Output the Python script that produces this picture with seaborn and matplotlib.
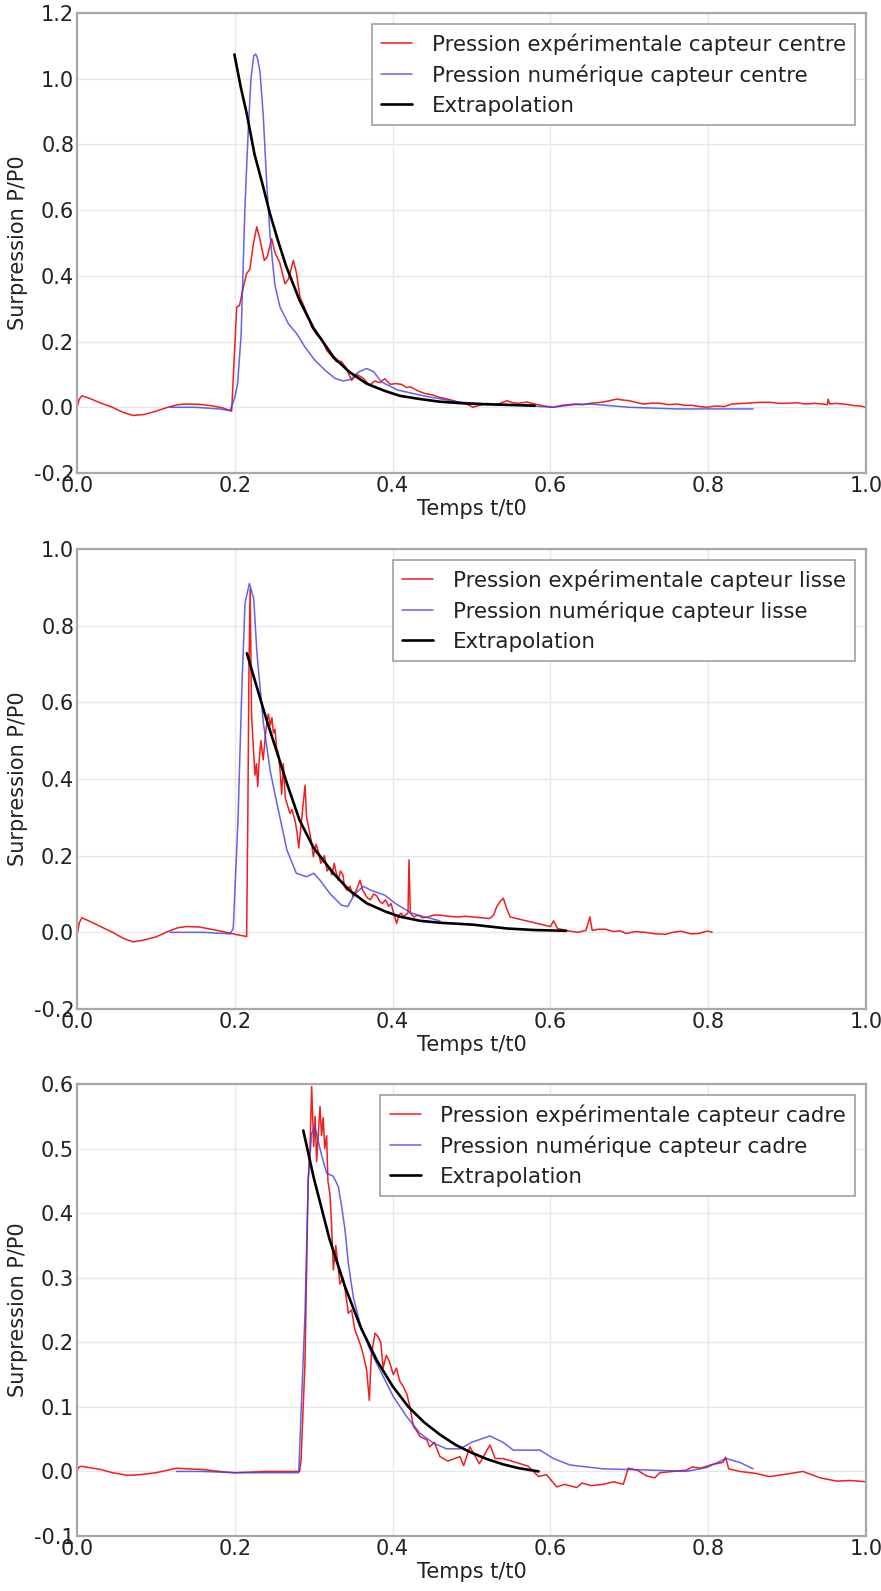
import matplotlib
matplotlib.use("Agg")
import matplotlib.pyplot as plt
import seaborn as sns

# ---------------- data ----------------
xlabel = "Temps t/t0"
ylabel = "Surpression P/P0"

# Panel 1 : capteur centre
t_exp_centre = [0.000, 0.003, 0.006, 0.015, 0.030, 0.045, 0.058, 0.071, 0.085, 0.100, 0.115, 0.128,
                0.139, 0.155, 0.170, 0.185, 0.196, 0.2024, 0.206, 0.2108,
                0.215, 0.219, 0.2236, 0.2278, 0.232, 0.2374, 0.241, 0.2467, 0.251, 0.257, 0.2636, 0.268,
                0.2742, 0.278, 0.2826, 0.289, 0.2975, 0.304, 0.310, 0.3165, 0.323, 0.329, 0.335, 0.341,
                0.3481, 0.3545, 0.362, 0.371, 0.377, 0.384, 0.390, 0.397, 0.404, 0.411, 0.418, 0.423,
                0.432, 0.441, 0.450, 0.460, 0.470, 0.483, 0.492, 0.502, 0.510, 0.520, 0.532, 0.545,
                0.552, 0.560, 0.570, 0.580, 0.592, 0.603, 0.615, 0.631, 0.642, 0.650, 0.664, 0.675,
                0.684, 0.692, 0.700, 0.710, 0.718, 0.730, 0.740, 0.750, 0.760, 0.770, 0.780, 0.790,
                0.798, 0.810, 0.820, 0.830, 0.845, 0.866, 0.880, 0.890, 0.900, 0.912, 0.923, 0.935,
                0.945, 0.951, 0.952, 0.954, 0.962, 0.970, 0.978, 0.985, 0.993, 1.000]
p_exp_centre = [0.000, 0.025, 0.035, 0.028, 0.013, 0.000, -0.015, -0.025, -0.022, -0.012, 0.000, 0.008,
                0.010, 0.009, 0.005, -0.002, -0.012, 0.305, 0.310, 0.366,
                0.407, 0.420, 0.498, 0.549, 0.510, 0.447, 0.457, 0.513, 0.470, 0.440, 0.376, 0.390,
                0.447, 0.410, 0.336, 0.300, 0.244, 0.220, 0.210, 0.173, 0.155, 0.138, 0.140, 0.120,
                0.082, 0.100, 0.090, 0.067, 0.080, 0.075, 0.087, 0.070, 0.072, 0.070, 0.060, 0.062,
                0.050, 0.042, 0.038, 0.030, 0.025, 0.016, 0.012, 0.000, 0.006, 0.012, 0.008, 0.020,
                0.014, 0.012, 0.016, 0.010, 0.004, 0.000, 0.006, 0.010, 0.008, 0.012, 0.015, 0.020,
                0.025, 0.022, 0.020, 0.014, 0.010, 0.013, 0.012, 0.008, 0.010, 0.006, 0.006, 0.002,
                0.000, 0.004, 0.002, 0.010, 0.012, 0.015, 0.015, 0.012, 0.012, 0.014, 0.010, 0.012,
                0.010, 0.008, 0.025, 0.010, 0.012, 0.010, 0.008, 0.005, 0.004, 0.000]
t_num_centre = [0.118, 0.150, 0.180, 0.194, 0.200, 0.2035, 0.208, 0.213, 0.217, 0.2205, 0.224, 0.2265,
                0.229, 0.232, 0.236, 0.2405, 0.2445, 0.2475, 0.251, 0.2573, 0.2678, 0.2784, 0.289,
                0.3016, 0.3143, 0.327, 0.3375, 0.347, 0.3565, 0.3671, 0.376, 0.386, 0.407, 0.441,
                0.483, 0.520, 0.550, 0.603, 0.630, 0.650, 0.700, 0.760, 0.800, 0.857]
p_num_centre = [0.000, 0.000, -0.005, -0.010, 0.030, 0.070, 0.220, 0.620, 0.840, 1.000, 1.070, 1.075,
                1.060, 1.020, 0.890, 0.680, 0.530, 0.450, 0.370, 0.305, 0.255, 0.224, 0.183,
                0.143, 0.113, 0.088, 0.080, 0.085, 0.107, 0.118, 0.108, 0.077, 0.052, 0.034,
                0.016, 0.010, 0.008, 0.000, 0.008, 0.010, 0.000, -0.005, -0.005, -0.005]
t_ext_centre = [0.1995, 0.2075, 0.2151, 0.225, 0.235, 0.2446, 0.255, 0.265, 0.282, 0.300, 0.325,
                0.345, 0.367, 0.390, 0.409, 0.435, 0.460, 0.490, 0.520, 0.550, 0.580]
p_ext_centre = [1.074, 0.975, 0.894, 0.770, 0.680, 0.589, 0.505, 0.430, 0.326, 0.240, 0.153,
                0.108, 0.072, 0.050, 0.035, 0.025, 0.017, 0.012, 0.009, 0.007, 0.005]

# Panel 2 : capteur lisse
t_exp_lisse = [0.000, 0.003, 0.006, 0.015, 0.030, 0.045, 0.058, 0.071, 0.085, 0.100, 0.115, 0.128,
               0.139, 0.155, 0.170, 0.185, 0.200, 0.215, 0.2165, 0.218, 0.2195,
               0.2212, 0.2235, 0.2256, 0.2275, 0.229, 0.231, 0.233, 0.236, 0.239, 0.2425, 0.245, 0.247,
               0.249, 0.251, 0.253, 0.255, 0.2575, 0.2594, 0.2615, 0.264, 0.267, 0.270, 0.2725, 0.2765,
               0.279, 0.281, 0.285, 0.289, 0.291, 0.293, 0.295, 0.2975, 0.2995, 0.303, 0.306, 0.309,
               0.3136, 0.317, 0.320, 0.323, 0.326, 0.328, 0.331, 0.334, 0.337, 0.339, 0.342, 0.346,
               0.350, 0.354, 0.3587, 0.362, 0.365, 0.368, 0.372, 0.376, 0.380, 0.384, 0.387, 0.391,
               0.395, 0.398, 0.400, 0.4051, 0.408, 0.411, 0.414, 0.416, 0.4195, 0.4208, 0.4225, 0.427,
               0.432, 0.438, 0.445, 0.452, 0.460, 0.470, 0.483, 0.492, 0.502, 0.512, 0.523, 0.528,
               0.532, 0.536, 0.5403, 0.545, 0.549, 0.600, 0.604, 0.609, 0.620, 0.628, 0.635, 0.645,
               0.650, 0.653, 0.660, 0.670, 0.680, 0.688, 0.696, 0.708, 0.720, 0.733, 0.746, 0.755,
               0.765, 0.778, 0.788, 0.796, 0.800, 0.805]
p_exp_lisse = [-0.007, 0.025, 0.038, 0.030, 0.015, 0.000, -0.015, -0.025, -0.020, -0.012, 0.002, 0.012,
               0.015, 0.014, 0.008, 0.002, -0.005, -0.011, 0.300, 0.700, 0.895,
               0.570, 0.480, 0.410, 0.440, 0.380, 0.450, 0.500, 0.450, 0.520, 0.570, 0.540, 0.560,
               0.520, 0.530, 0.480, 0.470, 0.420, 0.360, 0.440, 0.350, 0.330, 0.310, 0.320, 0.290,
               0.260, 0.220, 0.300, 0.384, 0.300, 0.280, 0.260, 0.230, 0.197, 0.230, 0.210, 0.180,
               0.200, 0.160, 0.170, 0.150, 0.180, 0.160, 0.136, 0.160, 0.150, 0.120, 0.110, 0.120,
               0.093, 0.110, 0.136, 0.110, 0.100, 0.090, 0.085, 0.100, 0.095, 0.080, 0.075, 0.085,
               0.068, 0.075, 0.060, 0.023, 0.045, 0.050, 0.040, 0.045, 0.050, 0.189, 0.050, 0.040,
               0.045, 0.038, 0.040, 0.045, 0.045, 0.042, 0.040, 0.042, 0.040, 0.038, 0.036, 0.045,
               0.067, 0.080, 0.089, 0.060, 0.040, 0.015, 0.030, 0.010, 0.005, 0.002, 0.000, 0.005,
               0.040, 0.005, 0.008, 0.008, 0.002, 0.004, -0.003, 0.002, 0.000, -0.004, -0.005, 0.000,
               0.003, -0.004, -0.003, 0.002, 0.003, 0.000]
t_num_lisse = [0.118, 0.160, 0.194, 0.198, 0.204, 0.209, 0.213, 0.2185, 0.224, 0.228, 0.236, 0.245,
               0.253, 0.266, 0.278, 0.291, 0.300, 0.308, 0.321, 0.335, 0.343, 0.352, 0.363, 0.372,
               0.390, 0.403, 0.424, 0.441, 0.460]
p_num_lisse = [0.000, 0.000, -0.004, 0.010, 0.290, 0.640, 0.860, 0.910, 0.870, 0.730, 0.550, 0.420,
               0.340, 0.215, 0.154, 0.145, 0.154, 0.136, 0.100, 0.071, 0.067, 0.100, 0.120, 0.110,
               0.097, 0.076, 0.050, 0.040, 0.030]
t_ext_lisse = [0.2153, 0.225, 0.2403, 0.255, 0.266, 0.282, 0.300, 0.325, 0.345, 0.367, 0.390, 0.409,
               0.435, 0.460, 0.502, 0.545, 0.580, 0.620]
p_ext_lisse = [0.728, 0.660, 0.554, 0.460, 0.389, 0.293, 0.220, 0.154, 0.110, 0.076, 0.055, 0.041,
               0.030, 0.025, 0.020, 0.010, 0.006, 0.004]

# Panel 3 : capteur cadre
t_exp_cadre = [0.000, 0.003, 0.006, 0.015, 0.030, 0.045, 0.064, 0.080, 0.100, 0.115, 0.127, 0.140,
               0.160, 0.180, 0.199, 0.220, 0.240, 0.260, 0.282, 0.284, 0.289,
               0.293, 0.2953, 0.2974, 0.300, 0.3018, 0.3037, 0.308, 0.310, 0.312, 0.314, 0.3164,
               0.318, 0.3205, 0.3226, 0.3249, 0.328, 0.3333, 0.337, 0.340, 0.3439, 0.348, 0.352,
               0.3587, 0.363, 0.3671, 0.3705, 0.373, 0.3777, 0.381, 0.385, 0.388, 0.392, 0.396,
               0.4009, 0.405, 0.409, 0.4136, 0.418, 0.422, 0.4263, 0.432, 0.4347, 0.4432, 0.447,
               0.453, 0.460, 0.470, 0.4854, 0.490, 0.498, 0.510, 0.5234, 0.530, 0.540, 0.5615,
               0.572, 0.585, 0.595, 0.6081, 0.618, 0.6334, 0.640, 0.652, 0.667, 0.680, 0.6924,
               0.6987, 0.710, 0.722, 0.732, 0.739, 0.755, 0.7722, 0.780, 0.790, 0.806, 0.8188,
               0.822, 0.826, 0.840, 0.860, 0.878, 0.900, 0.920, 0.942, 0.963, 0.980, 1.000]
p_exp_cadre = [0.002, 0.007, 0.008, 0.006, 0.003, -0.002, -0.006, -0.005, -0.002, 0.002, 0.005, 0.004,
               0.003, 0.000, -0.002, -0.001, 0.000, 0.000, 0.000, 0.018, 0.170,
               0.451, 0.500, 0.596, 0.503, 0.550, 0.480, 0.565, 0.520, 0.548, 0.500, 0.520,
               0.450, 0.430, 0.384, 0.312, 0.350, 0.290, 0.300, 0.280, 0.245, 0.250, 0.220,
               0.198, 0.180, 0.157, 0.110, 0.180, 0.214, 0.210, 0.200, 0.160, 0.180, 0.170,
               0.150, 0.160, 0.140, 0.131, 0.120, 0.100, 0.070, 0.060, 0.054, 0.049, 0.038,
               0.045, 0.023, 0.016, 0.023, 0.009, 0.038, 0.012, 0.041, 0.020, 0.020, 0.012,
               0.008, -0.008, -0.005, -0.024, -0.020, -0.025, -0.018, -0.022, -0.020, -0.016, -0.020,
               0.005, 0.002, -0.007, -0.010, -0.002, 0.000, 0.002, 0.007, 0.005, 0.011, 0.014,
               0.022, 0.004, 0.000, -0.003, -0.008, -0.004, 0.000, -0.010, -0.015, -0.014, -0.016]
t_num_cadre = [0.126, 0.160, 0.200, 0.240, 0.281, 0.289, 0.293, 0.2974, 0.3016, 0.306, 0.310, 0.3164,
               0.3249, 0.3312, 0.3355, 0.3397, 0.3439, 0.3502, 0.3587, 0.3714, 0.384, 0.4009, 0.4178,
               0.4347, 0.4516, 0.4684, 0.4854, 0.500, 0.5234, 0.540, 0.553, 0.5868, 0.6037, 0.6248,
               0.667, 0.730, 0.772, 0.798, 0.8226, 0.840, 0.857]
p_num_cadre = [0.000, 0.000, -0.002, -0.002, -0.002, 0.245, 0.450, 0.524, 0.534, 0.510, 0.490, 0.462,
               0.457, 0.441, 0.410, 0.374, 0.322, 0.270, 0.229, 0.188, 0.157, 0.116, 0.085,
               0.059, 0.044, 0.035, 0.035, 0.045, 0.055, 0.045, 0.033, 0.033, 0.020, 0.010,
               0.004, 0.002, 0.000, 0.006, 0.020, 0.014, 0.004]
t_ext_cadre = [0.2868, 0.300, 0.320, 0.340, 0.360, 0.380, 0.400, 0.420, 0.440, 0.460, 0.480, 0.500,
               0.520, 0.540, 0.560, 0.585]
p_ext_cadre = [0.528, 0.455, 0.360, 0.285, 0.222, 0.172, 0.132, 0.100, 0.076, 0.057, 0.041, 0.029,
               0.019, 0.011, 0.005, 0.000]

panels = [
    dict(exp=(t_exp_centre, p_exp_centre), num=(t_num_centre, p_num_centre), ext=(t_ext_centre, p_ext_centre),
         labels=["Pression expérimentale capteur centre", "Pression numérique capteur centre", "Extrapolation"],
         yticks=[-0.2, 0.0, 0.2, 0.4, 0.6, 0.8, 1.0, 1.2], ylim=(-0.2, 1.2)),
    dict(exp=(t_exp_lisse, p_exp_lisse), num=(t_num_lisse, p_num_lisse), ext=(t_ext_lisse, p_ext_lisse),
         labels=["Pression expérimentale capteur lisse", "Pression numérique capteur lisse", "Extrapolation"],
         yticks=[-0.2, 0.0, 0.2, 0.4, 0.6, 0.8, 1.0], ylim=(-0.2, 1.0)),
    dict(exp=(t_exp_cadre, p_exp_cadre), num=(t_num_cadre, p_num_cadre), ext=(t_ext_cadre, p_ext_cadre),
         labels=["Pression expérimentale capteur cadre", "Pression numérique capteur cadre", "Extrapolation"],
         yticks=[-0.1, 0.0, 0.1, 0.2, 0.3, 0.4, 0.5, 0.6], ylim=(-0.1, 0.6)),
]
xticks = [0.0, 0.2, 0.4, 0.6, 0.8, 1.0]

# ---------------- style ----------------
sns.set_style("whitegrid")
plt.rcParams['font.family'] = ['DejaVu Sans']
plt.rcParams['axes.unicode_minus'] = True

W, H = 881, 1591
fig = plt.figure(figsize=(W / 100, H / 100), dpi=100)
left, right = 77, 866
boxes = [(13, 473), (549, 1009), (1084, 1536)]

RED = "#f01e1e"
BLUE = "#3c3ce6"
TXT = "#222222"
FS = 15
FS_LEG = 15.4

for (top, bot), pan in zip(boxes, panels):
    ax = fig.add_axes([left / W, 1 - bot / H, (right - left) / W, (bot - top) / H])
    sns.lineplot(x=pan["exp"][0], y=pan["exp"][1], ax=ax, color=RED, lw=1.1,
                 label=pan["labels"][0], sort=False, estimator=None)
    sns.lineplot(x=pan["num"][0], y=pan["num"][1], ax=ax, color=BLUE, lw=1.1, alpha=0.8,
                 label=pan["labels"][1], sort=False, estimator=None)
    sns.lineplot(x=pan["ext"][0], y=pan["ext"][1], ax=ax, color="black", lw=1.9,
                 label=pan["labels"][2], sort=False, estimator=None)
    ax.set_xlim(0, 1)
    ax.set_ylim(*pan["ylim"])
    ax.set_xticks(xticks)
    ax.set_yticks(pan["yticks"])
    ax.xaxis.set_major_formatter(matplotlib.ticker.FormatStrFormatter("%.1f"))
    ax.yaxis.set_major_formatter(matplotlib.ticker.FormatStrFormatter("%.1f"))
    ax.tick_params(axis="both", length=0, pad=2, labelsize=FS, labelcolor=TXT)
    ax.grid(True, color="#e8e8e8", lw=1.0)
    for sp in ax.spines.values():
        sp.set_color("#a8a8a8")
        sp.set_linewidth(1.6)
    ax.set_xlabel(xlabel, fontsize=FS, color=TXT, labelpad=2)
    ax.set_ylabel(ylabel, fontsize=FS, color=TXT, labelpad=4)
    leg = ax.legend(loc="upper right", fontsize=FS_LEG, frameon=True, fancybox=False, framealpha=1,
                    edgecolor="#a0a0a0", handlelength=1.45, handletextpad=0.9, borderpad=0.45,
                    labelspacing=0.45, borderaxespad=0.5)
    leg.get_frame().set_linewidth(1.2)
    for txt in leg.get_texts():
        txt.set_color(TXT)

fig.savefig("out.png", dpi=100)
